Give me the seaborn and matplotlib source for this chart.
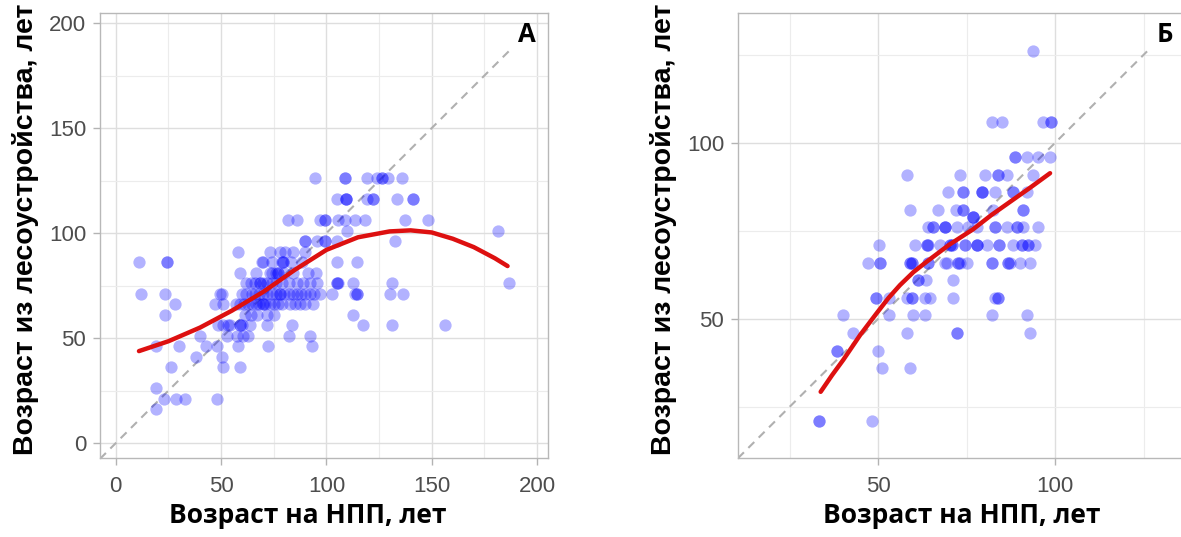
import numpy as np
import pandas as pd
import matplotlib
matplotlib.use("Agg")
import matplotlib.pyplot as plt
import seaborn as sns

# ---------------- Panel A data (x = age from NPP, y = age from forest inventory)
a_x = [19,
       23, 28.5, 33, 48,
       19,
       26, 51, 59,
       38, 50.2,
       19, 30, 43, 48, 58, 72.4, 93,
       40, 52.6, 57.5, 60.5, 62.9, 82.2, 92.2,
       48.6, 51, 53.4, 54.2, 58.9, 58.9, 59.7, 63.7, 71.6, 83.5, 117.5, 131, 156.3,
       23.3, 61.3, 64, 67, 71.6, 75, 112.7,
       28, 47, 51, 57, 58.9, 61, 63, 64.5, 66.5, 68, 69.7, 69.7, 71, 73.2, 75, 77, 79, 82.7, 85, 87.4, 90, 93.7,
       12.2, 23.3, 49.4, 50.2, 59.7, 62, 64.5, 66, 68, 70, 72, 74, 76, 77.9, 77.9, 80, 82, 84, 86, 88, 90, 92, 94,
       96.9, 102.5, 113.5, 114.3, 114.3, 130.2, 136.5,
       62, 64, 66, 68.4, 68.4, 70, 72, 74, 76, 79, 82, 86, 89, 92, 95.3, 104.8, 104.8, 105.6, 112.7, 131, 186.8,
       58.9, 66.8, 73.2, 74, 76, 77.1, 77.1, 80, 84, 91.4, 95,
       11.1, 24.1, 24.1, 69.2, 70, 74, 78.7, 79.5, 79.5, 83, 88.2, 105, 114.3,
       58.1, 73.2, 78, 80.3, 84.2, 90,
       89.8, 89.8, 95.3, 99.3, 99.3, 104.8, 132.5,
       109.6, 181.6,
       81.9, 85.8, 96.9, 99.3, 99.3, 105.6, 108.8, 113.5, 118.3, 137.3, 148.4,
       104.8, 109.3, 109.3, 109.3, 119.1, 121.9, 121.9, 133.3, 141.2, 141.2,
       94.5, 108.8, 108.8, 119.1, 123.8, 126.2, 126.2, 129.4, 135.7]
a_y = ([16] + [21] * 4 + [26] + [36] * 3 + [41] * 2 + [46] * 7 + [51] * 7
       + [56] * 13 + [61] * 7 + [66] * 22 + [71] * 30 + [76] * 21 + [81] * 11
       + [86] * 13 + [91] * 6 + [96] * 7 + [101] * 2 + [106] * 11 + [116] * 10 + [126] * 9)

# smooth (fitted) curve of panel A
a_fit_x = [11, 25, 40, 55, 70, 85, 100, 115, 130, 140, 150, 160, 170, 180, 186]
a_fit_y = [43.8, 48.5, 55, 63, 72, 82.5, 92, 98, 100.8, 101.3, 100.3, 97.3, 93.3, 88, 84.3]

# ---------------- Panel B data
b_x = [93.9,
       82.1, 85.1, 96.7, 98.8, 98.8,
       88.7, 88.7, 92, 95.3, 98.6,
       58.1, 73.2, 80.2, 84, 84, 86.3, 93.9,
       69.9, 74.1, 74.1, 79.3, 79.3, 79.3, 83.1, 88.2, 88.2, 92,
       59, 67, 72, 74.1, 74.1, 82.6, 91, 91,
       76.9, 76.9, 76.9,
       64.2, 65.6, 65.6, 68.9, 68.9, 68.9, 72.2, 75.5, 77.9, 83.1, 83.1, 86.3, 89.2, 89.2, 91, 95.3,
       50.4, 60.5, 63.8, 63.8, 64.2, 67.5, 70.3, 70.3, 70.8, 70.8, 74.6, 74.6, 77.9, 77.9, 77.9,
       80.7, 84.3, 84.3, 88.2, 90.6, 90.6, 92.5, 92.5, 94.4,
       47.3, 50.6, 50.6, 59, 59, 59.5, 59.5, 64.2, 64.2, 68.9, 69.4, 72.7, 72.7, 73.2, 75,
       82.1, 82.1, 86.8, 86.8, 87.3, 90.1, 92.9,
       61.4, 61.4, 63.5, 71.3,
       49.4, 49.4, 53.2, 58.1, 59.5, 59.5, 63.3, 64.7, 71.3, 83.1, 84, 84,
       40.2, 53.2, 60, 63.3, 82.1, 92,
       43, 58.1, 72.2, 72.2, 92.9,
       38.3, 38.3, 50.1,
       51.1, 59,
       33.4, 33.4, 48.2]
b_y = ([126] + [106] * 5 + [96] * 5 + [91] * 7 + [86] * 10 + [81] * 8 + [79] * 3
       + [76] * 16 + [71] * 24 + [66] * 22 + [61] * 4 + [56] * 12 + [51] * 6
       + [46] * 5 + [41] * 3 + [36] * 2 + [21] * 3)

b_fit_x = [33.8, 37, 40.2, 45, 49.6, 53, 56.2, 60, 63.8, 70, 76.9, 82, 88.2, 93, 98.6]
b_fit_y = [29.3, 34, 38.4, 45.5, 51.6, 56, 59.6, 63.3, 66.3, 71, 75.5, 79.5, 83.9, 87.3, 91.4]

xlabel = "Возраст на НПП, лет"
ylabel = "Возраст из лесоустройства, лет"
panel_labels = ["А", "Б"]

sns.set_theme(style="white")
plt.rcParams["font.family"] = ["Liberation Sans", "DejaVu Sans"]

W, H = 1181, 537
fig = plt.figure(figsize=(W / 100, H / 100), dpi=100)

def px_axes(l, t, r, b):
    return fig.add_axes([l / W, 1 - b / H, (r - l) / W, (b - t) / H])

axA = px_axes(100, 13, 548, 458)
axB = px_axes(738, 13, 1186, 458)

dfA = pd.DataFrame({"x": a_x, "y": a_y})
dfB = pd.DataFrame({"x": b_x, "y": b_y})

settings = [
    (axA, dfA, a_fit_x, a_fit_y, (-7.5, 205.2), (-7.1, 204.8), [0, 50, 100, 150, 200], [25, 75, 125, 175], panel_labels[0], 0.464),
    (axB, dfB, b_fit_x, b_fit_y, (10.45, 137.0), (10.5, 136.9), [50, 100], [25, 75, 125], panel_labels[1], 0.5),
]

for ax, df, fx, fy, xl, yl, major, minor, lab, xlc in settings:
    ax.set_xlim(*xl)
    ax.set_ylim(*yl)
    ax.set_xticks(major)
    ax.set_yticks(major)
    ax.set_xticks(minor, minor=True)
    ax.set_yticks(minor, minor=True)
    ax.grid(True, which="major", color="#dedede", linewidth=1.0, zorder=0)
    ax.grid(True, which="minor", color="#ececec", linewidth=0.8, zorder=0)
    ax.set_axisbelow(True)
    ax.tick_params(which="major", length=5, width=1, color="#b3b3b3",
                   labelsize=16, labelcolor="#4d4d4d", pad=5, direction="out",
                   bottom=True, left=True)
    ax.tick_params(axis="x", which="major", pad=8)
    ax.tick_params(which="minor", length=0)
    for s in ax.spines.values():
        s.set_color("#b8b8b8")
        s.set_linewidth(1.0)
    # identity line from the lower axis limit to the largest observed value
    lo = xl[0]
    hi = max(df["x"].max(), df["y"].max())
    ax.plot([lo, hi], [lo, hi], linestyle=(0, (4, 3)), color="#b0b0b0", linewidth=1.5, zorder=1)
    sns.scatterplot(data=df, x="x", y="y", ax=ax, s=78, color="#0000ff", alpha=0.3,
                    linewidth=0, legend=False, zorder=2)
    sns.lineplot(x=fx, y=fy, ax=ax, color="#dd1010", linewidth=3.2, sort=False,
                 estimator=None, zorder=3)
    ax.set_xlabel(xlabel, fontsize=19, fontweight="bold", color="black",
                  family=["Open Sans", "DejaVu Sans"])
    ax.xaxis.set_label_coords(xlc, -0.099, transform=ax.transAxes)
    ax.xaxis.label.set_va("top")
    ax.set_ylabel(ylabel, fontsize=20.5, fontweight="bold", color="black", labelpad=7)
    ax.yaxis.label.set_y(0.513)
    ax.text(0.953, 0.951, lab, transform=ax.transAxes, ha="center", va="center",
            fontsize=18.5, fontweight="bold", color="black", zorder=5,
            family=["Open Sans", "DejaVu Sans"])

fig.savefig("out.png", dpi=100)
